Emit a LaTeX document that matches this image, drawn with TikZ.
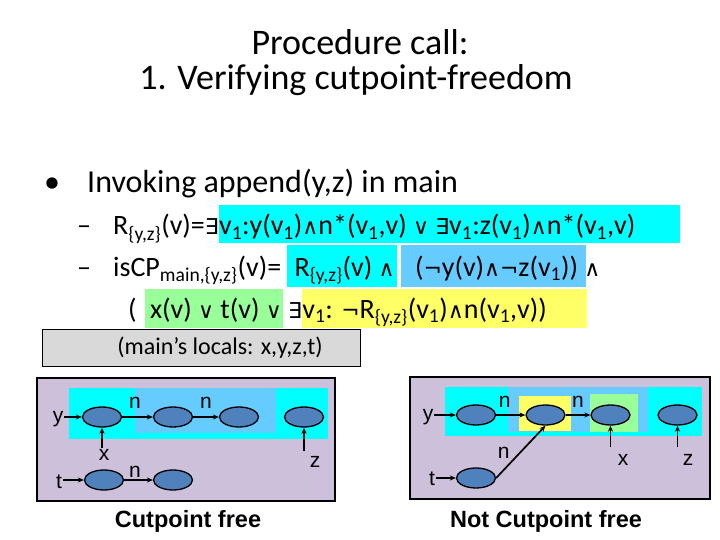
\documentclass[tikz,border=0pt]{standalone}
\usepackage{fontspec}
\setmainfont{Carlito}
\newfontfamily\arialf{Liberation Sans}
\newfontfamily\symf[Scale=0.78]{DejaVu Sans}
\usetikzlibrary{arrows.meta,backgrounds,calc,shapes.geometric}
\definecolor{lav}{RGB}{204,192,218}
\definecolor{cya}{RGB}{0,255,255}
\definecolor{lbl}{RGB}{102,204,255}
\definecolor{yel}{RGB}{255,255,102}
\definecolor{grn}{RGB}{153,255,153}
\definecolor{gry}{RGB}{217,217,217}
\definecolor{ell}{RGB}{79,129,189}
\newcommand\sy[1]{{\symf #1}}
\newcommand\sbs[1]{\textsubscript{#1}}
\begin{document}
\begin{tikzpicture}[x=1pt,y=-1pt,
  txt/.style={inner sep=0pt, anchor=base west, font=\fontsize{28}{34}\selectfont},
  ttl/.style={inner sep=0pt, anchor=base, font=\fontsize{36}{40}\selectfont},
  lab/.style={inner sep=1pt, anchor=base, font=\arialf\fontsize{21}{24}\selectfont},
  captxt/.style={inner sep=0pt, anchor=base, font=\arialf\bfseries\fontsize{23.5}{26}\selectfont},
  obj/.style={ellipse, draw=black, line width=1.3pt, fill=ell, minimum width=39pt, minimum height=20pt, inner sep=0pt},
  arr/.style={-{Stealth[length=6pt,width=5pt]}, line width=1.7pt},
  panel/.style={fill=lav, draw=black, line width=2.5pt}]
\useasboundingbox (0,0) rectangle (720,540);

% title
\node[ttl] (t1) at (360,55) {Procedure call:};
\node[ttl] (t2) at (356,90) {1. Verifying cutpoint-freedom};

% bullet
\node[inner sep=0pt, anchor=base west, font=\fontsize{32}{36}\selectfont] (bu) at (44,193) {•};
\node[inner sep=0pt, anchor=base west, font=\fontsize{32}{36}\selectfont] (inv) at (87,193) {Invoking append(y,z) in main};

% line 1
\node[txt] (d1) at (77,235) {–};
\node[txt] (l1a) at (113,235) {R\sbs{\{y,z\}}(v)=\sy{∃}};
\node[txt] (l1b) at (l1a.base east) {v\sbs{1}:y(v\sbs{1})\sy{∧}n*(v\sbs{1},v) \sy{∨} \sy{∃}v\sbs{1}:z(v\sbs{1})\sy{∧}n*(v\sbs{1},v)};

% line 2
\node[txt] (d2) at (77,276) {–};
\node[txt] (l2a) at (113,276) {isCP\sbs{main,\{y,z\}}(v)=};
\node[txt] (l2b) at ($(l2a.base east)+(13,0)$) {R\sbs{\{y,z\}}(v) \sy{∧}};
\node[txt] (l2c) at ($(l2b.base east)+(20,0)$) {(\sy{¬}y(v)\sy{∧}\sy{¬}z(v\sbs{1}))};
\node[txt] (l2d) at ($(l2c.base east)+(6,0)$) {\sy{∧}};

% line 3
\node[txt] (l3a) at (128,318) {(};
\node[txt] (l3b) at ($(l3a.base east)+(13,0)$) {x(v) \sy{∨} t(v) \sy{∨}};
\node[txt] (l3c) at ($(l3b.base east)+(6,0)$) {\sy{∃}};
\node[txt] (l3d) at (l3c.base east) {v\sbs{1}: \sy{¬}R\sbs{\{y,z\}}(v\sbs{1})\sy{∧}n(v\sbs{1},v))};

\begin{scope}[on background layer]
  \fill[white] (0,0) rectangle (720,540);
  \fill[cya] ($(l1b.base west)+(0,-30)$) rectangle ($(l1b.base east)+(45,8)$);
  \fill[cya] ($(l2b.base west)+(-7,-31)$) rectangle ($(l2b.base east)+(2,11)$);
  \fill[lbl] ($(l2c.base west)+(-14,-31)$) rectangle ($(l2c.base east)+(8,11)$);
  \fill[grn] ($(l3b.base west)+(-5,-29)$) rectangle ($(l3b.base east)+(1,10)$);
  \fill[yel] ($(l3d.base west)+(0,-29)$) rectangle ($(l3d.base east)+(40,10)$);
\end{scope}

% gray box
\node[draw=black, fill=gry, line width=0.8pt, minimum width=318pt, minimum height=37pt, inner sep=0pt,
  font=\fontsize{24}{28}\selectfont] (gb) at (201,347.5) {\hspace*{38pt}(main’s locals: x,y,z,t)};

% left panel
\draw[panel] (37,378) rectangle (335,501);
\fill[cya] (69,388) rectangle (328,439);
\fill[lbl] (135,388) rectangle (276,433);
\node[obj] (a1) at (102,417) {};
\node[obj] (a2) at (173,417) {};
\node[obj] (a3) at (239,417) {};
\node[obj] (a4) at (304,417) {};
\node[obj] (a5) at (104,480) {};
\node[obj] (a6) at (173,480) {};
\node[lab] (ay) at (58,422) {y};
\node[lab] (ax) at (104,460) {x};
\node[lab] (az) at (315,467) {z};
\node[lab] (at) at (59,488) {t};
\draw[arr] (ay.east |- a1.west) -- (a1.west);
\draw[arr] (a1.south |- ax.north) -- (a1.south);
\draw[arr] ($(a4.south |- az.north)+(0,-4)$) -- (a4.south);
\draw[arr] (at.east |- a5.west) -- (a5.west);
\draw[arr] (a1.east) -- node[lab, xshift=-2.5pt, yshift=9pt] (an1) {n} (a2.west);
\draw[arr] (a2.east) -- node[lab, yshift=9pt] (an2) {n} (a3.west);
\draw[arr] (a5.east) -- node[lab, xshift=-3.5pt, yshift=3pt] (an3) {n} (a6.west);
\node[captxt] (c1) at (188,527) {Cutpoint free};

% right panel
\draw[panel] (410,377) rectangle (710,499);
\fill[cya] (445,387) rectangle (702,436);
\fill[lbl] (508,387) rectangle (648,432);
\fill[yel] (519,396) rectangle (571,431);
\fill[grn] (590,394) rectangle (638,432);
\node[obj] (b1) at (476,415) {};
\node[obj] (b2) at (545.5,415) {};
\node[obj] (b3) at (610.5,415) {};
\node[obj] (b4) at (677.5,415) {};
\node[obj] (b5) at (476,478) {};
\node[lab] (by) at (428,420) {y};
\node[lab] (bt) at (432,485) {t};
\node[lab] (bx) at (623,465) {x};
\node[lab] (bz) at (688,465) {z};
\draw[arr] (by.east |- b1.west) -- (b1.west);
\draw[arr] (bt.east |- b5.west) -- (b5.west);
\draw[arr] ($(b3.south |- bx.north)+(0,-6)$) -- (b3.south);
\draw[arr] ($(b4.south |- bz.north)+(0,-6)$) -- (b4.south);
\draw[arr] (b1.east) -- node[lab, xshift=-6pt, yshift=8pt] (bn1) {n} (b2.west);
\draw[arr] (b2.east) -- node[lab, yshift=8pt] (bn2) {n} (b3.west);
\draw[arr] (b5.east) -- node[lab, xshift=-17pt, yshift=-6.5pt] (bn3) {n} (b2.south);
\node[captxt] (c2) at (546,527) {Not Cutpoint free};
\end{tikzpicture}
\end{document}
